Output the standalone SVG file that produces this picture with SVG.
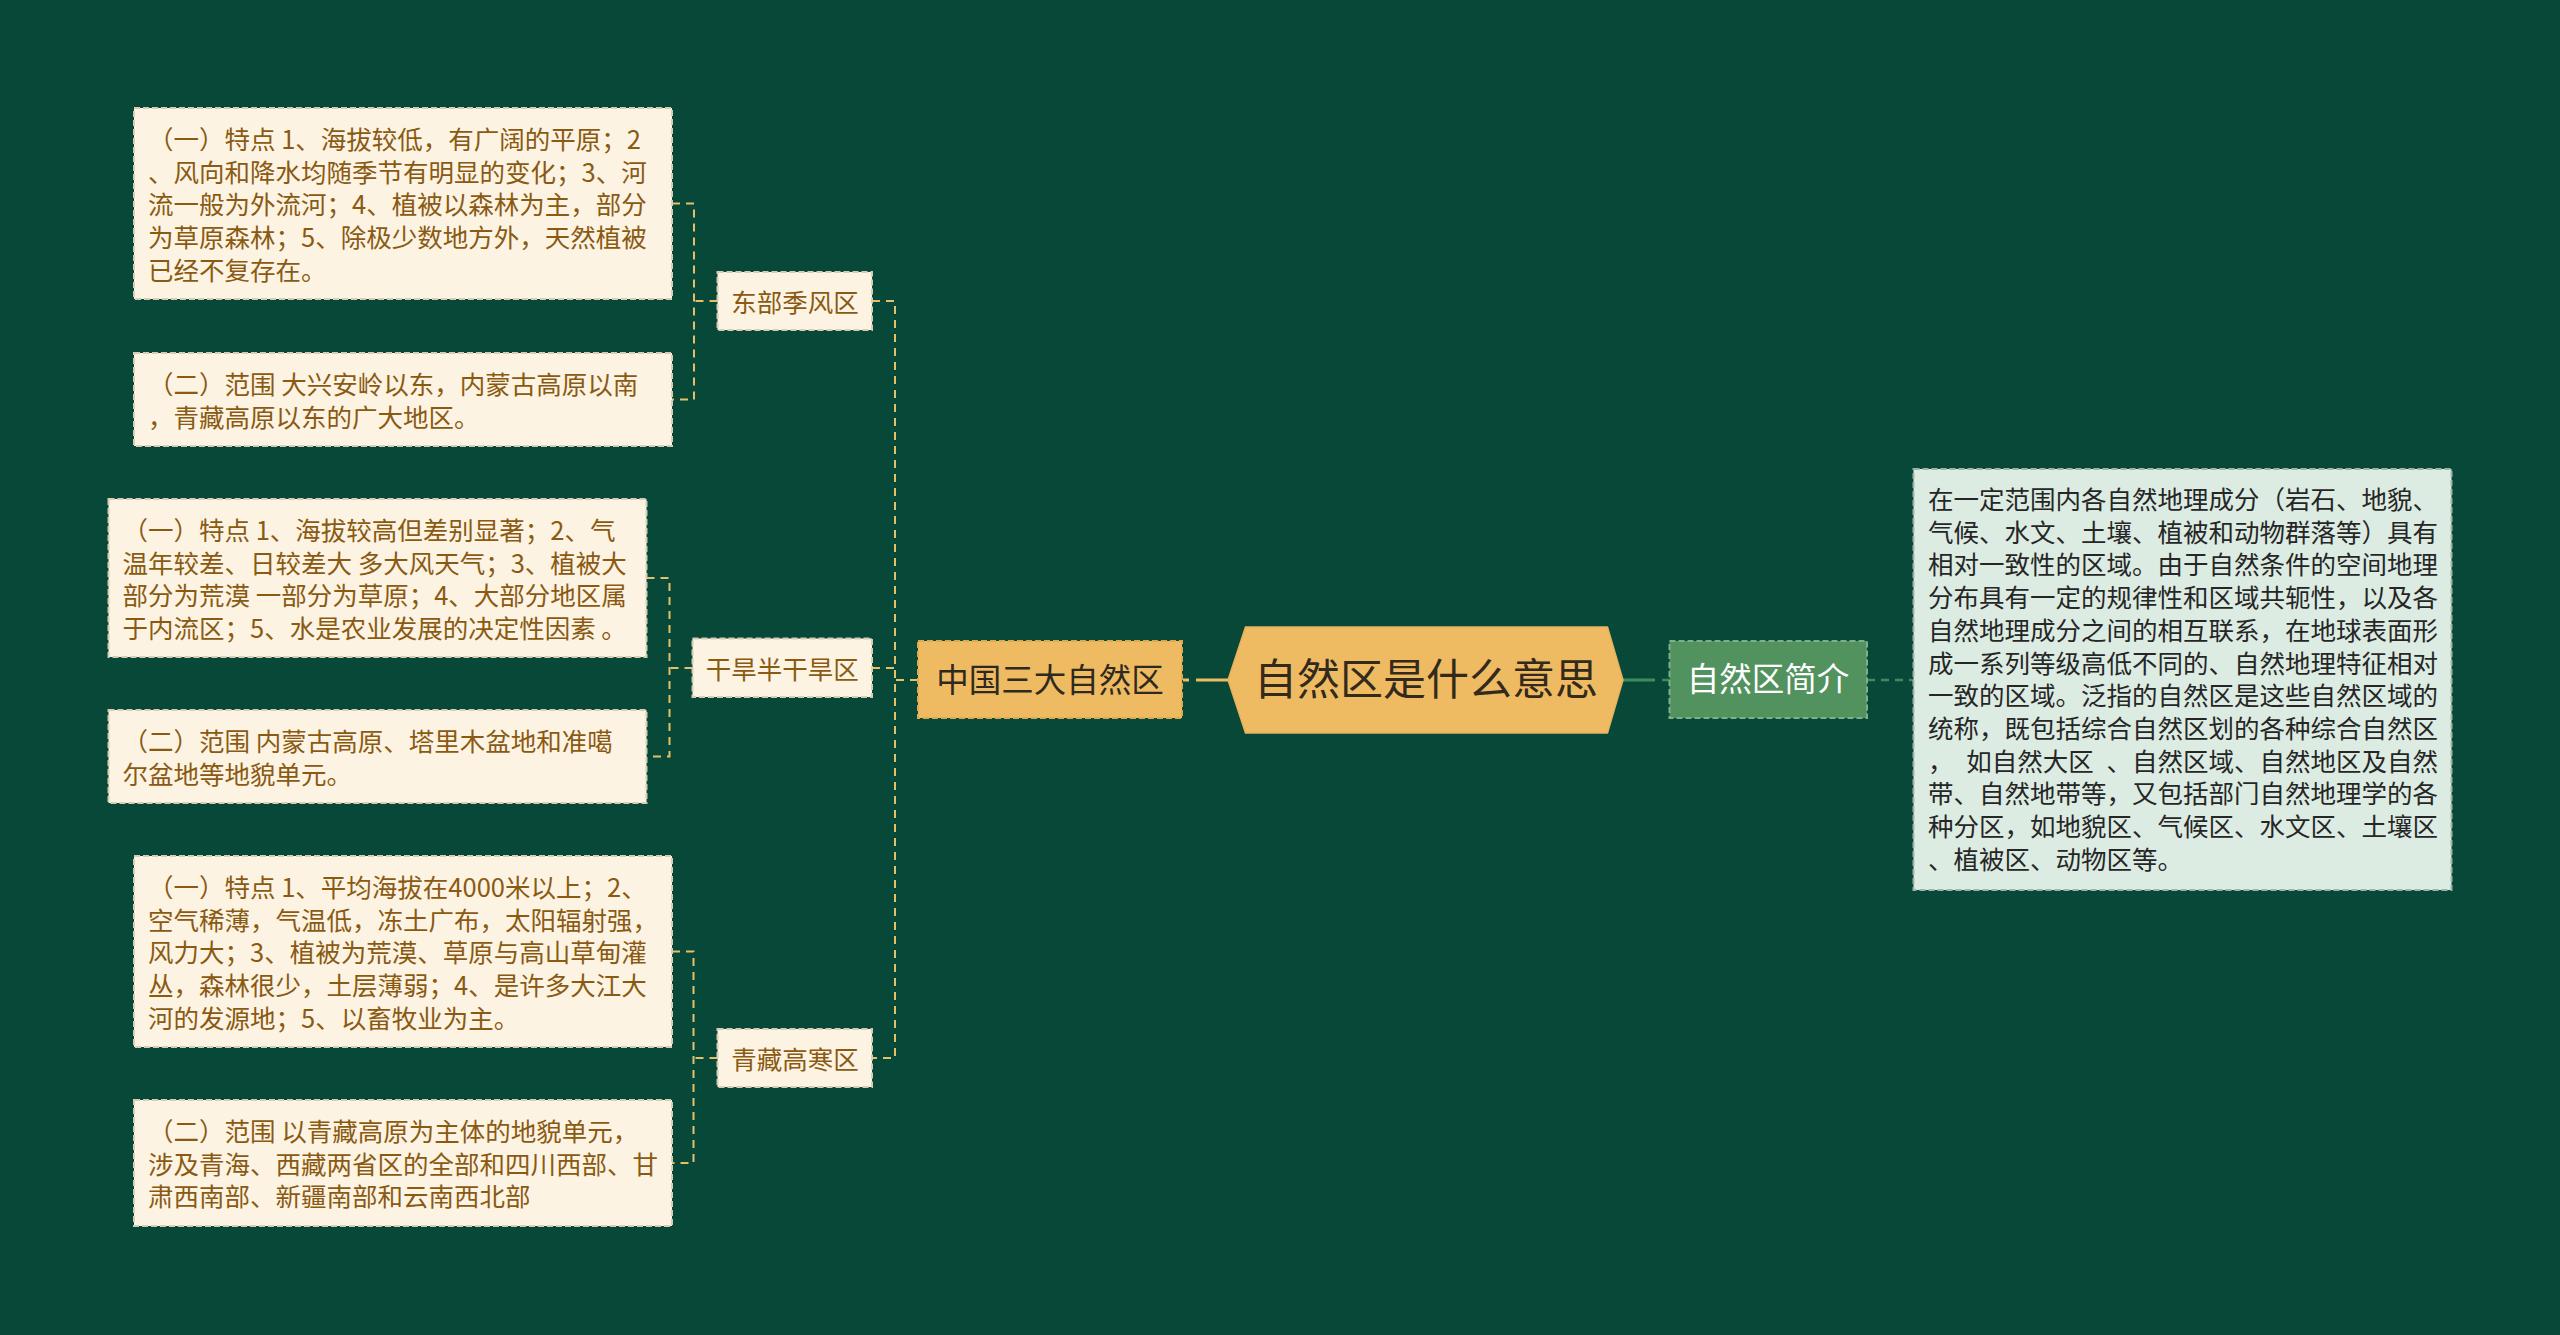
<svg xmlns="http://www.w3.org/2000/svg" width="2560" height="1335" viewBox="0 0 2560 1335">
<style>
text{font-family:"Noto Sans CJK SC","Noto Sans",sans-serif}
.leaf rect{fill:#FCF3E3;stroke:#D8CCB4;stroke-width:2;stroke-dasharray:6 3}
.leaf text{font-size:25.5px;fill:#8A5A12}
.sub rect{fill:#FCF3E3;stroke:#D8CCB4;stroke-width:2;stroke-dasharray:6 3}
.sub text{font-size:25.5px;fill:#8A5A12;text-anchor:middle}
.conn-y{fill:none;stroke:#E3C16B;stroke-width:2;stroke-dasharray:8 6}
.conn-g{fill:none;stroke:#3D8C5C;stroke-width:2.5;stroke-dasharray:8 6}
</style>
<rect x="0" y="0" width="2560" height="1335" fill="#074838"/>

<g id="connectors">
  <path d="M1183 680H1189M1196 680H1228" fill="none" stroke="#EFBB62" stroke-width="3"/>
  <path class="conn-y" d="M918 680H895"/>
  <path class="conn-y" d="M872 301H895V1058H872"/>
  <path class="conn-y" d="M872 668H895"/>
  <path class="conn-y" d="M717.5 301H694"/>
  <path class="conn-y" d="M672 203.5H694V399.5H672"/>
  <path class="conn-y" d="M692.5 668H669.5"/>
  <path class="conn-y" d="M646.5 578H669.5V756.5H646.5"/>
  <path class="conn-y" d="M717.5 1058H693.5"/>
  <path class="conn-y" d="M672 951.5H693.5V1163H672"/>
  <path d="M1623 680H1655" fill="none" stroke="#3D8C5C" stroke-width="3"/>
  <path class="conn-g" d="M1662 680H1669.5"/>
  <path class="conn-g" d="M1867 680H1913.5"/>
</g>

<g id="root">
  <polygon points="1228,680 1245.5,627 1607.5,627 1623,680 1607.5,733 1245.5,733" fill="#EFBB62" stroke="#E8B25A" stroke-width="1.5"/>
  <text x="1426" y="695" font-size="43" fill="#332A1C" text-anchor="middle">自然区是什么意思</text>
</g>

<g id="n-china">
  <rect x="918" y="641" width="264" height="77" fill="#EFBB62" stroke="#E0A94C" stroke-width="2" stroke-dasharray="6 3"/>
  <text x="1050" y="692" font-size="32.5" fill="#2E2A1F" text-anchor="middle">中国三大自然区</text>
</g>

<g id="n-intro">
  <rect x="1669.5" y="641" width="197.5" height="77" fill="#52925F" stroke="#7DB08A" stroke-width="2" stroke-dasharray="6 3"/>
  <text x="1768" y="691" font-size="32.5" fill="#FFFFFF" text-anchor="middle">自然区简介</text>
</g>

<g id="n-east" class="sub">
  <rect x="717.5" y="272" width="154.5" height="58"/>
  <text x="795" y="311.5">东部季风区</text>
</g>
<g id="n-arid" class="sub">
  <rect x="692.5" y="638.5" width="179.5" height="58.5"/>
  <text x="782.3" y="678.5">干旱半干旱区</text>
</g>
<g id="n-tibet" class="sub">
  <rect x="717.5" y="1029" width="154.5" height="58"/>
  <text x="795" y="1068.5">青藏高寒区</text>
</g>

<g id="leaf-east-1" class="leaf">
  <rect x="134" y="108" width="538" height="191"/>
  <text x="148" y="149">（一）特点 1、海拔较低，有广阔的平原；2</text>
  <text x="148" y="181.7">、风向和降水均随季节有明显的变化；3、河</text>
  <text x="148" y="214.4">流一般为外流河；4、植被以森林为主，部分</text>
  <text x="148" y="247.1">为草原森林；5、除极少数地方外，天然植被</text>
  <text x="148" y="279.8">已经不复存在。</text>
</g>
<g id="leaf-east-2" class="leaf">
  <rect x="134" y="353" width="538" height="93"/>
  <text x="148" y="394">（二）范围 大兴安岭以东，内蒙古高原以南</text>
  <text x="148" y="426.7">，青藏高原以东的广大地区。</text>
</g>
<g id="leaf-arid-1" class="leaf">
  <rect x="108.5" y="499" width="538" height="158"/>
  <text x="122.5" y="540">（一）特点 1、海拔较高但差别显著；2、气</text>
  <text x="122.5" y="572.7">温年较差、日较差大 多大风天气；3、植被大</text>
  <text x="122.5" y="605.4">部分为荒漠 一部分为草原；4、大部分地区属</text>
  <text x="122.5" y="638.1">于内流区；5、水是农业发展的决定性因素 。</text>
</g>
<g id="leaf-arid-2" class="leaf">
  <rect x="108.5" y="710" width="538" height="93"/>
  <text x="122.5" y="751">（二）范围 内蒙古高原、塔里木盆地和准噶</text>
  <text x="122.5" y="783.7">尔盆地等地貌单元。</text>
</g>
<g id="leaf-tibet-1" class="leaf">
  <rect x="134" y="856" width="538" height="191"/>
  <text x="148" y="897">（一）特点 1、平均海拔在4000米以上；2、</text>
  <text x="148" y="929.7">空气稀薄，气温低，冻土广布，太阳辐射强，</text>
  <text x="148" y="962.4">风力大；3、植被为荒漠、草原与高山草甸灌</text>
  <text x="148" y="995.1">丛，森林很少，土层薄弱；4、是许多大江大</text>
  <text x="148" y="1027.8">河的发源地；5、以畜牧业为主。</text>
</g>
<g id="leaf-tibet-2" class="leaf">
  <rect x="134" y="1100" width="538" height="126"/>
  <text x="148" y="1141">（二）范围 以青藏高原为主体的地貌单元，</text>
  <text x="148" y="1173.7">涉及青海、西藏两省区的全部和四川西部、甘</text>
  <text x="148" y="1206.4">肃西南部、新疆南部和云南西北部</text>
</g>

<g id="leaf-intro">
  <rect x="1913.5" y="469" width="538" height="421" fill="#DCECE2" stroke="#9DB5A6" stroke-width="2" stroke-dasharray="6 3"/>
  <g font-size="25.5" fill="#262626">
    <text x="1928" y="509">在一定范围内各自然地理成分（岩石、地貌、</text>
    <text x="1928" y="541.7">气候、水文、土壤、植被和动物群落等）具有</text>
    <text x="1928" y="574.4">相对一致性的区域。由于自然条件的空间地理</text>
    <text x="1928" y="607.1">分布具有一定的规律性和区域共轭性，以及各</text>
    <text x="1928" y="639.8">自然地理成分之间的相互联系，在地球表面形</text>
    <text x="1928" y="672.5">成一系列等级高低不同的、自然地理特征相对</text>
    <text x="1928" y="705.2">一致的区域。泛指的自然区是这些自然区域的</text>
    <text x="1928" y="737.9">统称，既包括综合自然区划的各种综合自然区</text>
    <text x="1928" y="770.6">，&#8194;如自然大区&#8194;、自然区域、自然地区及自然</text>
    <text x="1928" y="803.3">带、自然地带等，又包括部门自然地理学的各</text>
    <text x="1928" y="836">种分区，如地貌区、气候区、水文区、土壤区</text>
    <text x="1928" y="868.7">、植被区、动物区等。</text>
  </g>
</g>
</svg>
